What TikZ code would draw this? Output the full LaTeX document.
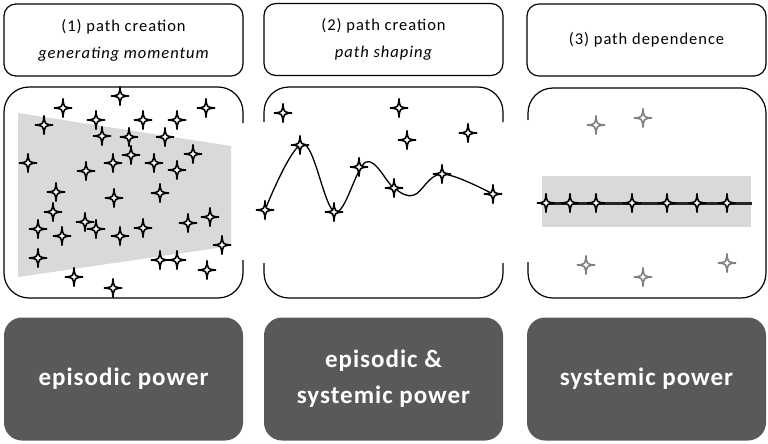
\documentclass[tikz,border=0pt]{standalone}
\usepackage{fontspec}
\setmainfont{Carlito}
\newfontfamily\headfont[LetterSpace=6]{Carlito}
\newfontfamily\powerfont[LetterSpace=4]{Carlito}
\usetikzlibrary{positioning}
\definecolor{powergray}{RGB}{89,89,89}
\definecolor{bandgray}{RGB}{217,217,217}
\definecolor{fadegray}{RGB}{128,128,128}

\begin{document}
\begin{tikzpicture}[
          x=1pt, y=-1pt,
          stage/.style={draw, line width=1.2pt, rounded corners=12pt,
                        minimum width=239pt, minimum height=72pt, inner sep=0pt,
                        font=\headfont\fontsize{16.5}{27}\selectfont, align=center},
          power/.style={fill=powergray, rounded corners=18pt, text=white,
                        minimum width=239pt, minimum height=123pt, inner sep=0pt,
                        font=\powerfont\bfseries\fontsize{25}{36}\selectfont, align=center},
          frame/.style={line width=1.2pt, rounded corners=25pt},
          spark/.pic={\draw[line width=1.6pt, fill=white, pic actions]
                      (0,9.5) .. controls (0.7,0.7) .. (9,0) .. controls (0.7,-0.7) .. (0,-9.5)
                      .. controls (-0.7,-0.7) .. (-9,0) .. controls (-0.7,0.7) .. cycle;}
        ]
        \useasboundingbox (0,0) rectangle (768,444);

        % stage headers
        \node[stage] (head1) at (123.5,40) {(1) path creation\\{\itshape generating momentum}};
        \node[stage] (head2) at (383.5,39.5) {(2) path creation\\{\itshape path shaping}};
        \node[stage] (head3) at (646.5,40) {(3) path dependence};

        % stage 1: widening cloud
        \fill[bandgray] (18,113) -- (231,146) -- (231,246) -- (18,277) -- cycle;
        \draw[frame] (243,123) -- (243,87) -- (4,87) -- (4,298) -- (243,298) -- (243,260);
        \foreach \x/\y in {120/96, 63/108, 206/108, 44/125, 96/120, 143/120, 177/120,
                           102/136, 129/137, 165/137, 131/155, 193/154, 28/163, 113/163,
                           154/163, 86/171, 177/170, 56/192, 160/193, 114/198, 53/212,
                           210/217, 85/222, 96/229, 38/229, 143/228, 188/223, 62/236,
                           120/236, 222/245, 38/258, 160/260, 177/260, 207/270, 74/277,
                           113/288}
          \pic at (\x,\y) {spark};

        % stage 2: shaped path
        \draw[frame] (264,122) -- (264,87) -- (503,87) -- (503,122);
        \draw[frame] (264,263) -- (264,298) -- (503,298) -- (503,263);
        \draw[line width=1.3pt] plot[smooth, tension=0.6] coordinates
          {(265,210) (303,144) (335,212) (366,162) (394,188) (414,195) (442,174) (493,194)};
        \foreach \x/\y in {283/113, 399/108, 407/140, 468/133,
                           265/210, 300/145, 334/212, 359/167, 394/188, 442/174, 493/194}
          \pic at (\x,\y) {spark};

        % stage 3: locked-in path
        \fill[bandgray] (542,176) rectangle (751,227);
        \draw[frame] (528,120) -- (528,88) -- (766,88) -- (766,298) -- (528,298) -- (528,262);
        \draw[line width=3pt, color=black!85] (541,203) -- (752,203);
        \foreach \x in {546, 570, 596, 632, 667, 697, 727}
          \pic at (\x,203) {spark};
        \foreach \x/\y in {596/125, 643/118, 586/265, 643/277, 727/263}
          \pic[draw=fadegray] at (\x,\y) {spark};

        % power boxes
        \node[power] (pow1) at (123.5,379) {episodic power};
        \node[power] (pow2) at (383.5,379) {episodic \&\\systemic power};
        \node[power] (pow3) at (646.5,379) {systemic power};
      \end{tikzpicture}
\end{document}
